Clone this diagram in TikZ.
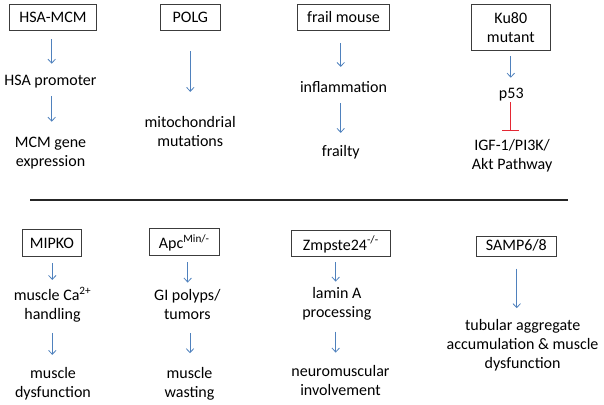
\documentclass[tikz,border=0pt]{standalone}
\usepackage{fontspec}
\setmainfont{Carlito}
\usetikzlibrary{arrows.meta}
\definecolor{arrblue}{RGB}{79,129,189}
\definecolor{inhred}{RGB}{228,40,52}
\definecolor{boxline}{RGB}{60,60,60}
\begin{document}
\begin{tikzpicture}[x=1pt,y=-1pt,
  every node/.style={font=\fontsize{16}{19}\selectfont, inner sep=0pt},
  mbox/.style={draw=boxline, line width=0.8pt, minimum height=26.7pt, text height=13pt, text depth=2.2pt},
  lbl/.style={anchor=base, align=center},
  arr/.style={draw=arrblue, line width=0.8pt, -{Straight Barb[length=4pt,width=7.5pt]}},
  inh/.style={draw=inhred, line width=0.8pt, -{Bar[width=16.6pt,line width=0.8pt]}}]
\useasboundingbox (0,0) rectangle (604,404);

% top row
\node[mbox, minimum width=87.4pt] (hsa) at (53,17.35) {HSA-MCM};
\node[lbl] (hsaprom) at (50.4,85) {HSA promoter};
\node[lbl] (mcm) at (50.5,166.7) {MCM gene\\expression};

\node[mbox, minimum width=59.3pt] (polg) at (190.3,17.35) {POLG};
\node[lbl] (mito) at (190.2,146.7) {mitochondrial\\mutations};

\node[mbox, minimum width=91.6pt] (frail) at (343.5,17.35) {frail mouse};
\node[lbl] (infl) at (343.5,92.3) {inflammation};
\node[lbl] (frailty) at (340.8,156.7) {frailty};

\node[draw=boxline, line width=0.8pt, align=center, minimum width=79.7pt, minimum height=46.7pt] (ku) at (510.8,27.35) {Ku80\\mutant};
\node[lbl] (p53) at (511.3,98.3) {p53};
\node[lbl] (igf) at (512.1,169.7) {IGF-1/PI3K/\\Akt Pathway};

% divider
\draw[line width=1.6pt, black!85] (30,200) -- (568,200);

% bottom row
\node[mbox, minimum width=59.4pt, text height=13.3pt, text depth=2pt] (mipko) at (52,242.65) {MIPKO};
\node[lbl] (ca) at (52.5,319.7) {muscle Ca\textsuperscript{2+}\\handling};
\node[lbl] (mdys) at (53,397.3) {muscle\\dysfunction};

\node[mbox, minimum width=70pt, minimum height=26.3pt, text height=14pt, text depth=1.1pt] (apc) at (184.3,241.85) {Apc\textsuperscript{Min/-}};
\node[lbl] (gi) at (187.3,319.7) {GI polyps/\\tumors};
\node[lbl] (wast) at (189.5,397.3) {muscle\\wasting};

\node[mbox, minimum width=98.3pt, text height=14.5pt, text depth=1.2pt] (zmp) at (340.85,243.35) {Zmpste24\textsuperscript{-/-}};
\node[lbl] (lamin) at (336.8,317.7) {lamin A\\processing};
\node[lbl] (neuro) at (340.5,395.7) {neuromuscular\\involvement};

\node[mbox, minimum width=80.7pt, minimum height=20.7pt, text height=10pt, text depth=2.7pt] (samp) at (516.35,246.35) {SAMP6/8};
\node[lbl] (tub) at (522.6,368) {tubular aggregate\\accumulation \& muscle\\dysfunction};

% connectors
\draw[arr, shorten <=8.3pt, shorten >=10.7pt] ([xshift=-1.3pt]hsa.south) -- ([xshift=-1.3pt]hsa.south |- hsaprom.north);
\draw[arr, shorten <=8.6pt, shorten >=15.4pt] ([xshift=1.3pt]hsaprom.south) -- ([xshift=1.3pt]hsaprom.south |- mcm.north);
\draw[arr, shorten <=20.3pt, shorten >=24.5pt] (polg.south) -- (polg.south |- mito.north);
\draw[arr, shorten <=12.3pt, shorten >=14.1pt] ([xshift=-2.8pt]frail.south) -- ([xshift=-2.8pt]frail.south |- infl.north);
\draw[arr, shorten <=10.7pt, shorten >=12.5pt] ([xshift=-2.8pt]infl.south) -- ([xshift=-2.8pt]infl.south |- frailty.north);
\draw[arr, shorten <=5.3pt, shorten >=10pt] (ku.south) -- (ku.south |- p53.north);
\draw[inh, shorten <=1.3pt, shorten >=9pt] ([xshift=-0.6pt]p53.south) -- ([xshift=-0.6pt]p53.south |- igf.north);

\draw[arr, shorten <=6.7pt, shorten >=7pt] ([xshift=0.3pt]mipko.south) -- ([xshift=0.3pt]mipko.south |- ca.north);
\draw[arr, shorten <=10.3pt, shorten >=12.1pt] ([xshift=-0.2pt]ca.south) -- ([xshift=-0.2pt]ca.south |- mdys.north);
\draw[arr, shorten <=7pt, shorten >=6.8pt] ([xshift=3.4pt]apc.south) -- ([xshift=3.4pt]apc.south |- gi.north);
\draw[arr, shorten <=13.4pt, shorten >=13.8pt] ([xshift=2.7pt]gi.south) -- ([xshift=2.7pt]gi.south |- wast.north);
\draw[arr, shorten <=5pt, shorten >=5.8pt] ([xshift=-5.15pt]zmp.south) -- ([xshift=-5.15pt]zmp.south |- lamin.north);
\draw[arr, shorten <=11pt, shorten >=12.8pt] ([xshift=-1.1pt]lamin.south) -- ([xshift=-1.1pt]lamin.south |- neuro.north);
\draw[arr, shorten <=11.6pt, shorten >=10.5pt] ([xshift=0.35pt]samp.south) -- ([xshift=0.35pt]samp.south |- tub.north);
\end{tikzpicture}
\end{document}
